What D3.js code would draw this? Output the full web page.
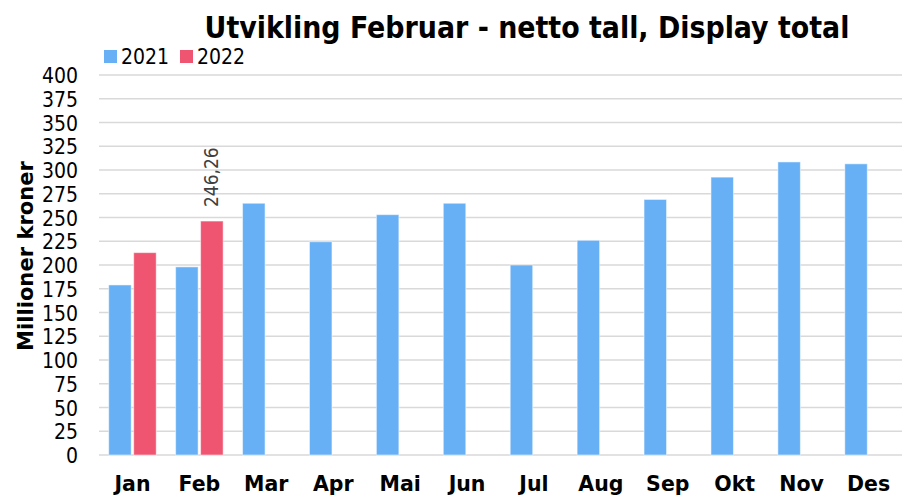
<!DOCTYPE html>
<html>
<head>
<meta charset="utf-8">
<script src="https://cdn.jsdelivr.net/npm/d3@7"></script>
<style>
  body { margin: 0; background: #fff; }
  svg { display: block; font-family: "DejaVu Sans Condensed", "DejaVu Sans", sans-serif; }
</style>
</head>
<body>
<svg id="chart" width="902" height="496"></svg>
<script>
// ----------
var months = ['Jan', 'Feb', 'Mar', 'Apr', 'Mai', 'Jun', 'Jul', 'Aug', 'Sep', 'Okt', 'Nov', 'Des'];
var values2021 = [179, 198, 265, 224.5, 253, 265, 200, 226, 269, 292.5, 308.5, 306.5];
var values2022 = [213, 246.26, null, null, null, null, null, null, null, null, null, null];
var seriesNames = ['2021', '2022'];
var yTicks = d3.range(0, 401, 25);

(function() {
  var colors = { '2021': '#68b0f5', '2022': '#ef5470' };
  var font = '"DejaVu Sans Condensed", "DejaVu Sans", sans-serif';
  var wideFont = '"DejaVu Sans", sans-serif';

  var svg = d3.select('#chart');
  var plotLeft = 99, plotRight = 902, plotTop = 75, plotBottom = 455;

  var x = d3.scaleBand().domain(months).range([plotLeft, plotRight]);
  var y = d3.scaleLinear().domain([0, 400]).range([plotBottom, plotTop]);

  // fit a text node to a given length by changing its font size
  function fit(sel, size, len) {
    var w = sel.node().getComputedTextLength();
    sel.attr('font-size', size * len / w);
  }

  // gridlines
  svg.append('g')
    .selectAll('line')
    .data(yTicks)
    .enter().append('line')
    .attr('x1', plotLeft)
    .attr('x2', plotRight)
    .attr('y1', function(d) { return y(d); })
    .attr('y2', function(d) { return y(d); })
    .attr('stroke', '#d9d9d9')
    .attr('stroke-width', 1.5);

  // y tick labels
  var gy = svg.append('g')
    .attr('transform', 'translate(78,0)')
    .call(d3.axisLeft(y).tickValues(yTicks).tickSize(0).tickPadding(0));
  gy.select('.domain').remove();
  gy.selectAll('text')
    .attr('font-size', 21)
    .attr('font-family', font)
    .attr('fill', '#000')
    .attr('dy', '0.36em');

  // x labels
  var gx = svg.append('g')
    .attr('transform', 'translate(0,' + plotBottom + ')')
    .call(d3.axisBottom(x).tickSize(0).tickPadding(0));
  gx.select('.domain').remove();
  gx.selectAll('text')
    .attr('font-size', 20.5)
    .attr('font-weight', 'bold')
    .attr('font-family', wideFont)
    .attr('fill', '#000')
    .attr('dy', 0)
    .attr('y', 36);

  // bars
  var barW = 22.5, gap = 2.5;
  var sub = d3.scaleOrdinal().domain(seriesNames).range([-barW - gap / 2, gap / 2]);

  function drawSeries(name, vals) {
    var rows = months.map(function(m, i) { return { m: m, v: vals[i] }; })
      .filter(function(d) { return d.v != null; });
    svg.append('g')
      .selectAll('rect')
      .data(rows)
      .enter().append('rect')
      .attr('x', function(d) { return x(d.m) + x.bandwidth() / 2 + sub(name); })
      .attr('y', function(d) { return y(d.v); })
      .attr('width', barW)
      .attr('height', function(d) { return y(0) - y(d.v); })
      .attr('fill', colors[name])
      .attr('stroke', 'rgba(255,255,255,0.5)')
      .attr('stroke-width', 1);
  }
  drawSeries('2021', values2021);
  drawSeries('2022', values2022);

  // data label on Feb 2022
  var fx = x('Feb') + x.bandwidth() / 2 + sub('2022') + barW / 2 + 6;
  var fy = y(values2022[1]) - 14;
  svg.append('text')
    .attr('transform', 'translate(' + fx + ',' + fy + ') rotate(-90)')
    .attr('font-size', 19)
    .attr('font-family', font)
    .attr('fill', '#404040')
    .text(d3.format('.2f')(values2022[1]).replace('.', ','));

  // y axis title
  var yTitle = svg.append('text')
    .attr('transform', 'translate(33,256) rotate(-90)')
    .attr('text-anchor', 'middle')
    .attr('font-size', 20)
    .attr('font-weight', 'bold')
    .attr('font-family', wideFont)
    .text('Millioner kroner');
  fit(yTitle, 20, 190);

  // title, fitted to the width seen in the reference
  var title = svg.append('text')
    .attr('x', 527)
    .attr('y', 38)
    .attr('text-anchor', 'middle')
    .attr('font-size', 28)
    .attr('font-weight', 'bold')
    .attr('font-family', font)
    .text('Utvikling Februar - netto tall, Display total');
  fit(title, 28, 645);

  // legend
  var legX = [104, 180];
  seriesNames.forEach(function(name, i) {
    svg.append('rect')
      .attr('x', legX[i])
      .attr('y', 50)
      .attr('width', 13)
      .attr('height', 13)
      .attr('fill', colors[name]);
    svg.append('text')
      .attr('x', legX[i] + 17)
      .attr('y', 64)
      .attr('font-size', 21)
      .attr('font-family', font)
      .text(name);
  });
})();
</script>
</body>
</html>
